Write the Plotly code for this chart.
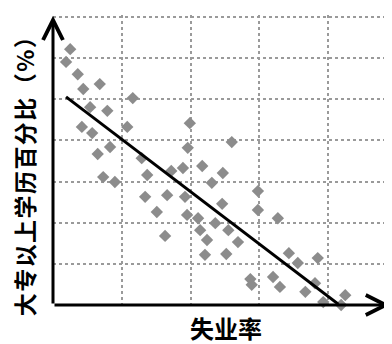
import plotly.graph_objects as go

# scatter data (x: unemployment, y: share with college degree)
unemp = [0.25, 0.19, 0.36, 0.44, 0.68, 0.54, 0.79, 1.16, 0.42, 0.57,
         1.08, 0.83, 0.65, 1.29, 1.37, 1.72, 1.89, 1.96, 1.99, 2.60,
         2.17, 2.47, 2.31, 1.66, 1.92, 2.98, 1.51, 1.95, 2.11, 2.46,
         2.98, 0.73, 0.90, 1.34, 1.63, 2.36, 2.14, 2.55, 2.24, 2.69,
         2.21, 2.52, 2.87, 2.89, 3.27, 3.43, 3.56, 3.85, 3.20, 3.30,
         3.67, 3.81, 3.93, 4.25, 4.19]
college = [6.22, 5.91, 5.61, 5.25, 5.37, 4.81, 4.72, 5.03, 4.33, 4.18,
           4.33, 3.84, 3.67, 3.57, 3.16, 3.26, 3.33, 3.82, 4.42, 3.96,
           3.38, 3.21, 2.97, 2.67, 2.63, 2.77, 2.26, 2.19, 2.11, 2.46,
           2.31, 3.11, 2.99, 2.63, 1.68, 1.99, 1.82, 1.82, 1.58, 1.53,
           1.22, 1.24, 0.63, 0.49, 2.11, 1.26, 1.02, 1.14, 0.68, 0.44,
           0.32, 0.53, 0.07, 0.24, 0.00]

# fitted line end points
fit_x = [0.19, 4.15]
fit_y = [5.06, 0.02]

cjk = "Noto Sans CJK SC"
hair = "\u200a"

fig = go.Figure()
fig.add_trace(go.Scatter(x=unemp, y=college, mode="markers", cliponaxis=False,
                         marker=dict(symbol="diamond", size=9.5, color="#8c8c8c")))
fig.add_trace(go.Scatter(x=fit_x, y=fit_y, mode="lines", cliponaxis=False,
                         line=dict(color="black", width=3)))

# axes with arrow heads
fig.add_annotation(x=4.9, y=0, ax=0, ay=0, xref="x", yref="y", axref="x", ayref="y",
                   text="", showarrow=True, arrowhead=5, arrowwidth=3, arrowsize=1.3,
                   arrowcolor="black")
fig.add_annotation(x=0, y=7.03, ax=0, ay=0, xref="x", yref="y", axref="x", ayref="y",
                   text="", showarrow=True, arrowhead=5, arrowwidth=3, arrowsize=1.3,
                   arrowcolor="black")

# page has an 8px body margin, so the figure is shrunk by that much
ylab = hair.join("大专以上学历百分比（%）")
fig.add_annotation(x=-0.085, y=0.462, xref="paper", yref="paper", showarrow=False,
                   xanchor="center", yanchor="middle",
                   text="<b>" + ylab + "</b>", textangle=-90,
                   font=dict(family=cjk, size=23, color="black"))
fig.add_annotation(x=0.51, y=-0.079, xref="paper", yref="paper", showarrow=False,
                   xanchor="center", yanchor="middle",
                   text="<b>失业率</b>", font=dict(family=cjk, size=24, color="black"))

fig.update_xaxes(range=[0, 4.93], dtick=1, tick0=0, showticklabels=False, ticks="",
                 showgrid=True, gridcolor="#9a9a9a", gridwidth=2, griddash="dot",
                 zeroline=False, showline=False)
fig.update_yaxes(range=[0, 7.05], dtick=1, tick0=0, showticklabels=False, ticks="",
                 showgrid=True, gridcolor="#9a9a9a", gridwidth=2, griddash="dot",
                 zeroline=False, showline=False)
fig.update_layout(width=384, height=336, showlegend=False,
                  margin=dict(l=45, r=0, t=7, b=39),
                  plot_bgcolor="white", paper_bgcolor="white")
fig.write_html("out.html")
